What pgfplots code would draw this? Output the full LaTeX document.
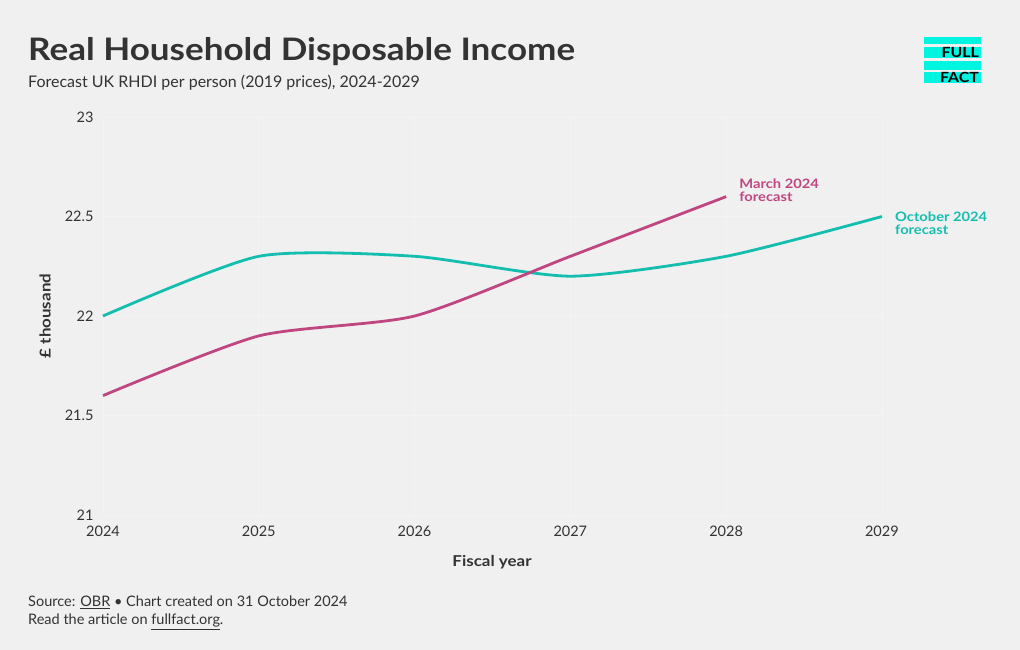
\documentclass[border=0pt]{standalone}
\usepackage{pgfplots}
\pgfplotsset{compat=1.18}
\usepackage{fontspec}
\setmainfont{Lato}[BoldFeatures={FakeStretch=1.13}]
\definecolor{bg}{RGB}{240,240,240}
\definecolor{txt}{RGB}{51,51,51}
\definecolor{teal}{RGB}{20,190,175}
\definecolor{pink}{RGB}{192,70,130}
\definecolor{logo}{RGB}{0,245,225}
\definecolor{grid}{RGB}{243,243,243}
\begin{document}
\begin{tikzpicture}[x=1pt,y=1pt]
\fill[bg] (0,0) rectangle (1020,650);
\useasboundingbox (0,0) rectangle (1020,650);
% title
\node[anchor=base west,inner sep=0,text=txt,font=\fontsize{31}{36}\selectfont\bfseries] at (28,650-61) {Real Household Disposable Income};
\node[anchor=base west,inner sep=0,text=txt,font=\fontsize{16}{18}\selectfont] at (28,650-88) {Forecast UK RHDI per person (2019 prices), 2024-2029};
% logo
\fill[logo] (924,650-44) rectangle (981,650-37);
\fill[logo] (924,650-58.5) rectangle (981,650-47.5);
\fill[logo] (924,650-70) rectangle (981,650-61);
\fill[logo] (924,650-83) rectangle (981,650-72);
\node[anchor=base east,inner sep=0,font=\fontsize{14}{14}\selectfont\bfseries] at (979,650-58) {FULL};
\node[anchor=base east,inner sep=0,font=\fontsize{14}{14}\selectfont\bfseries] at (979,650-83) {FACT};
\begin{axis}[
  at={(103pt,135pt)}, anchor=south west,
  scale only axis, width=779pt, height=398pt,
  xmin=2024, xmax=2029, ymin=21, ymax=23,
  xtick={2024,...,2029}, ytick={21,21.5,22,22.5,23},
  yticklabels={21,21.5,22,22.5,23},
  xticklabels={2024,2025,2026,2027,2028,2029},
  axis line style={draw=none}, major tick length=0pt,
  grid=major, major grid style={draw=grid,line width=0.8pt},
  tick label style={font=\fontsize{14.5}{16}\selectfont, text=txt},
  xticklabel style={yshift=-7pt},
  yticklabel style={xshift=-6pt},
  /pgf/number format/assume math mode=true,
  clip=false,
]
\addplot[teal, line width=2.8pt, smooth, tension=0.4] coordinates {
 (2024,22.0) (2025,22.3) (2026,22.3) (2027,22.2) (2028,22.3) (2029,22.5)};
\addplot[pink, line width=2.8pt, smooth, tension=0.4] coordinates {
 (2024,21.6) (2025,21.9) (2026,22.0) (2027,22.3) (2028,22.6)};
\node[anchor=west, align=left, inner sep=0, text=pink, font=\fontsize{13}{13}\selectfont\bfseries, xshift=13pt, yshift=6pt] at (axis cs:2028,22.6) {March 2024\\forecast};
\node[anchor=west, align=left, inner sep=0, text=teal, font=\fontsize{13}{13}\selectfont\bfseries, xshift=13pt, yshift=-7pt] at (axis cs:2029,22.5) {October 2024\\forecast};
\end{axis}
\node[rotate=90,text=txt,font=\fontsize{15}{16}\selectfont\bfseries] at (45,650-316) {£ thousand};
\node[text=txt,font=\fontsize{15}{16}\selectfont\bfseries] at (492,650-562) {Fiscal year};
\node[anchor=base west,inner sep=0,text=txt,font=\fontsize{14.5}{16}\selectfont] at (28,650-607) {Source: \underline{OBR} \textbullet\ Chart created on 31 October 2024};
\node[anchor=base west,inner sep=0,text=txt,font=\fontsize{14.5}{16}\selectfont] at (28,650-625) {Read the article on \underline{fullfact.org}.};
\end{tikzpicture}
\end{document}
